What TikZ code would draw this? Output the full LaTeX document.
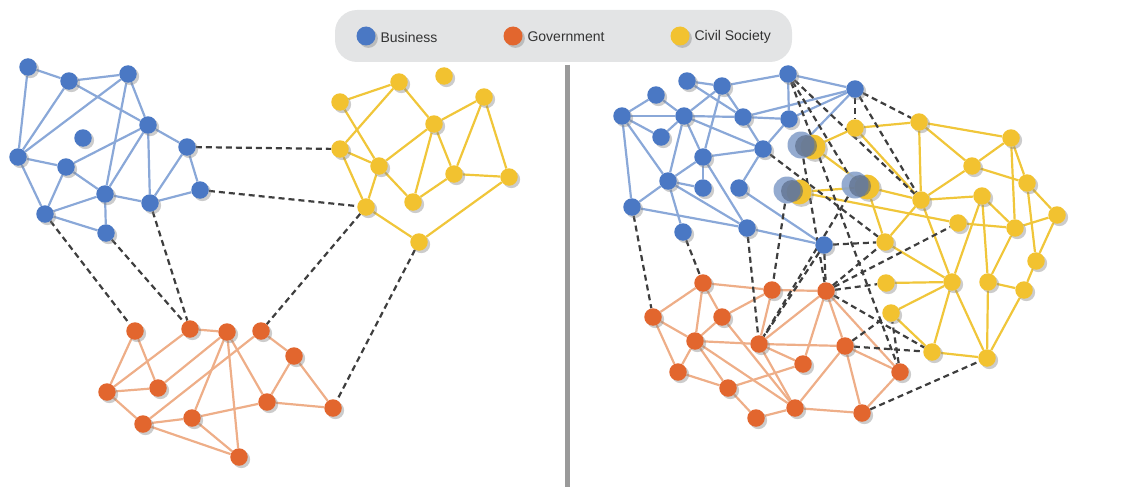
\documentclass[tikz,border=0pt]{standalone}
\usepackage{fontspec}
\setmainfont{Liberation Sans}
\usetikzlibrary{shadows}
\pgfdeclarelayer{background}
\pgfsetlayers{background,main}
\definecolor{bluen}{HTML}{4A78C4}
\definecolor{orangen}{HTML}{E2662E}
\definecolor{yellown}{HTML}{F2C230}
\definecolor{bluee}{HTML}{8AA8D8}
\definecolor{orangee}{HTML}{EEAE88}
\definecolor{yellowe}{HTML}{F0C63A}
\definecolor{dashc}{HTML}{3E3E3E}
\definecolor{legendbg}{HTML}{E3E4E5}
\definecolor{divider}{HTML}{9A9A9A}
\tikzset{
  dot/.style={circle, inner sep=0pt, minimum size=17.5pt,
    drop shadow={shadow xshift=2.4pt, shadow yshift=-2.4pt, opacity=0.4}},
  bnode/.style={dot, fill=bluen},
  onode/.style={dot, fill=orangen},
  ynode/.style={dot, fill=yellown},
  ghostb/.style={circle, inner sep=0pt, minimum size=27pt, fill=bluee!85!gray, opacity=0.9},
  ghosty/.style={circle, inner sep=0pt, minimum size=25pt, fill=yellown,
    drop shadow={shadow xshift=2.4pt, shadow yshift=-2.4pt, opacity=0.4}},
  bedge/.style={draw=bluee, line width=2.2pt},
  oedge/.style={draw=orangee, line width=2.2pt},
  yedge/.style={draw=yellowe, line width=2.2pt},
  tie/.style={draw=dashc, line width=2.2pt, dash pattern=on 6pt off 4pt},
  legtext/.style={anchor=west, font=\fontsize{14}{16}\selectfont, text=black!80}
}
\begin{document}
\begin{tikzpicture}[x=1pt, y=-1pt]
\useasboundingbox (0,0) rectangle (1129,487);

% legend
\node[fill=legendbg, rounded corners=22pt, minimum width=457pt, minimum height=52pt, inner sep=0pt] (legend) at (563.5,36) {};
\node[bnode, minimum size=19pt] (kb) at (366,36) {};
\node[legtext] (kbt) at (377,37) {Business};
\node[onode, minimum size=19pt] (ko) at (513,36) {};
\node[legtext] (kot) at (524,37) {Government};
\node[ynode, minimum size=19pt] (ky) at (680,36) {};
\node[legtext] (kyt) at (691,37) {Civil Society};

% divider
\coordinate (divtop) at (567,65);
\coordinate (divbot) at (567,487);
\draw[divider, line width=5pt] (divtop) -- (divbot);

% ---------- left network ----------
\foreach \n/\x/\y in {lb1/28/67, lb2/69/81, lb3/128/74, lb4/148/125, lb5/83/138,
  lb6/187/147, lb7/18/157, lb8/66/167, lb9/200/190, lb10/105/194, lb11/150/203,
  lb12/45/214, lb13/106/233}
  \node[bnode] (\n) at (\x,\y) {};
\foreach \n/\x/\y in {ly1/340/102, ly2/399/82, ly3/444/76, ly4/484/97, ly5/434/124,
  ly6/340/149, ly7/379/166, ly8/454/174, ly9/509/177, ly10/413/202, ly11/366/207,
  ly12/419/242}
  \node[ynode] (\n) at (\x,\y) {};
\foreach \n/\x/\y in {lo1/135/331, lo2/190/329, lo3/227/332, lo4/261/331, lo5/294/356,
  lo6/107/392, lo7/158/388, lo8/267/402, lo9/333/408, lo10/143/424, lo11/192/418,
  lo12/239/457}
  \node[onode] (\n) at (\x,\y) {};

\begin{pgfonlayer}{background}
\foreach \a/\b in {lb1/lb2, lb2/lb3, lb1/lb7, lb2/lb7, lb2/lb4, lb3/lb7, lb3/lb4,
  lb3/lb10, lb4/lb8, lb4/lb10, lb4/lb11, lb4/lb6, lb7/lb8, lb7/lb12, lb8/lb10,
  lb8/lb12, lb10/lb12, lb10/lb11, lb10/lb13, lb12/lb13, lb6/lb11, lb6/lb9, lb11/lb9}
  \draw[bedge] (\a) -- (\b);
\foreach \a/\b in {ly1/ly2, ly1/ly7, ly2/ly6, ly2/ly5, ly5/ly4, ly5/ly7, ly5/ly10,
  ly5/ly8, ly4/ly8, ly4/ly9, ly8/ly9, ly8/ly10, ly7/ly10, ly6/ly7, ly6/ly11,
  ly7/ly11, ly11/ly12, ly12/ly9}
  \draw[yedge] (\a) -- (\b);
\foreach \a/\b in {lo1/lo6, lo1/lo7, lo2/lo3, lo2/lo6, lo3/lo7, lo3/lo11, lo3/lo12,
  lo3/lo8, lo4/lo10, lo4/lo5, lo5/lo8, lo5/lo9, lo6/lo7, lo6/lo10, lo10/lo11,
  lo10/lo12, lo11/lo12, lo11/lo8, lo8/lo9}
  \draw[oedge] (\a) -- (\b);
\foreach \a/\b in {lb12/lo1, lb13/lo2, lb11/lo2, ly11/lo4, ly12/lo9, lb6/ly6, lb9/ly11}
  \draw[tie] (\a) -- (\b);
\end{pgfonlayer}

% ---------- right network ----------
\foreach \n/\x/\y in {rb1/687/81, rb2/722/86, rb3/788/74, rb4/855/89, rb5/656/95,
  rb6/622/116, rb7/684/116, rb8/743/117, rb9/789/119, rb10/661/137, rb11/763/149,
  rb12/703/157, rb13/668/181, rb14/703/188, rb15/739/188, rb16/632/207,
  rb17/683/232, rb18/747/228, rb19/824/245}
  \node[bnode] (\n) at (\x,\y) {};
\foreach \n/\x/\y in {ry1/855/128, ry2/919/122, ry3/1011/138, ry4/972/166,
  ry5/1027/183, ry6/921/200, ry7/982/196, ry8/1057/215, ry9/958/223, ry10/1015/228,
  ry11/885/242, ry12/1036/261, ry13/886/283, ry14/952/282, ry15/988/282,
  ry16/1024/290, ry17/891/313, ry18/932/352, ry19/987/358}
  \node[ynode] (\n) at (\x,\y) {};
\foreach \n/\x/\y in {ro1/703/283, ro2/772/290, ro3/826/291, ro4/653/317,
  ro5/722/317, ro6/695/341, ro7/759/344, ro8/845/346, ro9/803/364, ro10/678/372,
  ro11/728/388, ro12/795/408, ro13/756/418, ro14/862/413, ro15/900/372}
  \node[onode] (\n) at (\x,\y) {};

% overlapping business / civil society members
\foreach \n/\x/\y in {g1/801/145, g2/787/190, g3/855/185} {
  \node[ghosty] (\n y) at (\x+12,\y+2) {};
  \node[ghostb] (\n) at (\x,\y) {};
  \fill[black!45!bluee, opacity=0.55] (\x+5,\y+1) circle (11pt);
}

\begin{pgfonlayer}{background}
\foreach \a/\b in {rb1/rb2, rb1/rb8, rb2/rb3, rb2/rb7, rb2/rb8, rb2/rb12, rb3/rb4,
  rb3/rb9, rb4/rb8, rb4/rb9, rb4/g1, rb5/rb6, rb5/rb7, rb6/rb7, rb6/rb10, rb6/rb13,
  rb6/rb16, rb7/rb10, rb7/rb8, rb7/rb13, rb7/rb12, rb7/rb11, rb8/rb9, rb8/rb11,
  rb9/rb11, rb11/rb12, rb11/rb15, rb12/rb13, rb12/rb14, rb12/rb18, rb13/rb14,
  rb13/rb16, rb13/rb17, rb13/rb18, rb16/rb18, rb15/rb19, rb18/rb19}
  \draw[bedge] (\a) -- (\b);
\foreach \a/\b in {ry1/ry2, g1y/ry1, ry1/ry6, g1y/g3y, g2y/g3y, g3y/ry6, g3y/ry11,
  g2y/ry9, ry2/ry3, ry2/ry4, ry2/ry6, ry3/ry4, ry3/ry5, ry3/ry10, ry4/ry5, ry4/ry6,
  ry5/ry8, ry5/ry12, ry6/ry7, ry6/ry11, ry6/ry14, ry7/ry10, ry7/ry14, ry7/ry15,
  ry9/ry10, ry8/ry10, ry8/ry12, ry10/ry15, ry12/ry16, ry15/ry16, ry16/ry19,
  ry15/ry19, ry14/ry19, ry14/ry18, ry11/ry14, ry13/ry14, ry17/ry14, ry17/ry18,
  ry18/ry19}
  \draw[yedge] (\a) -- (\b);
\foreach \a/\b in {ro1/ro2, ro1/ro4, ro1/ro6, ro1/ro5, ro2/ro3, ro2/ro5, ro2/ro7,
  ro3/ro7, ro3/ro9, ro3/ro8, ro3/ro15, ro4/ro6, ro4/ro10, ro5/ro6, ro5/ro12,
  ro6/ro7, ro6/ro10, ro6/ro11, ro6/ro12, ro7/ro8, ro7/ro9, ro7/ro12, ro8/ro12,
  ro8/ro14, ro8/ro15, ro9/ro11, ro10/ro11, ro11/ro13, ro12/ro13, ro12/ro14,
  ro14/ro15}
  \draw[oedge] (\a) -- (\b);
\foreach \a/\b in {rb16/ro4, rb17/ro1, rb18/ro7, g2/ro2, rb11/ry11, rb3/ro15,
  rb19/ro3, rb19/ry11, rb19/ro7, g3/ro7, ro3/ry11, ro3/ry13, ro3/ry9, ro3/ry18,
  ro8/ry17, ro8/ry18, ro15/ry17, ro14/ry19, rb4/ry1, rb4/ry2, rb4/ry6, rb3/g3,
  rb3/ry6, g1/ro3}
  \draw[tie] (\a) -- (\b);
\end{pgfonlayer}
\end{tikzpicture}
\end{document}
